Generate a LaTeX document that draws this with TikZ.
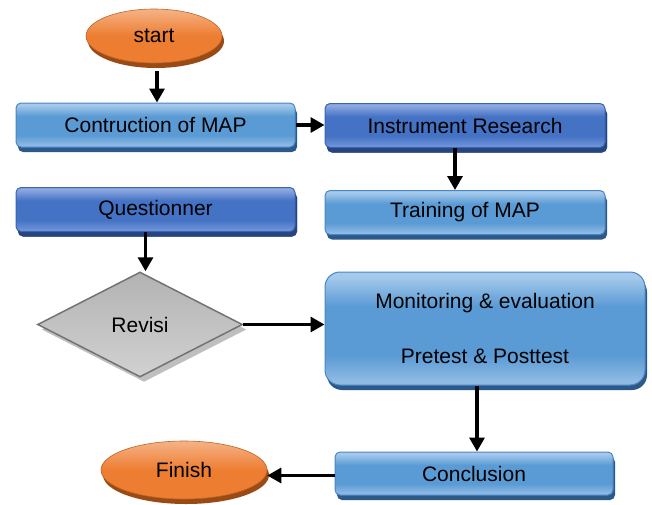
\documentclass[tikz,border=0pt]{standalone}
\usepackage{fontspec}
\setmainfont{Liberation Sans}
\usetikzlibrary{shapes.geometric, arrows.meta, shadows}
\definecolor{boxtop}{HTML}{A6CAEB}
\definecolor{boxmid}{HTML}{5B9BD5}
\definecolor{boxbot}{HTML}{8EBAE4}
\definecolor{boxline}{HTML}{4A86C4}
\definecolor{boxshade}{HTML}{2B5A8A}
\definecolor{darktop}{HTML}{8EA9E2}
\definecolor{darkmid}{HTML}{4472C4}
\definecolor{darkbot}{HTML}{6E93D8}
\definecolor{darkline}{HTML}{3A64B2}
\definecolor{darkshade}{HTML}{26447E}
\definecolor{ovaltop}{HTML}{F5B387}
\definecolor{ovalmid}{HTML}{ED7D31}
\definecolor{ovalshade}{HTML}{9A4A14}
\pgfdeclareverticalshading{lightfill}{100bp}{color(0bp)=(boxbot); color(27bp)=(boxbot);
    color(38bp)=(boxmid); color(60bp)=(boxmid); color(73bp)=(boxtop); color(100bp)=(boxtop)}
\pgfdeclareverticalshading{darkfill}{100bp}{color(0bp)=(darkbot); color(27bp)=(darkbot);
    color(38bp)=(darkmid); color(60bp)=(darkmid); color(73bp)=(darktop); color(100bp)=(darktop)}
\pgfdeclareverticalshading{ovalfill}{100bp}{color(0bp)=(ovalmid); color(50bp)=(ovalmid);
    color(75bp)=(ovaltop); color(100bp)=(ovaltop)}

\begin{document}
\begin{tikzpicture}[x=1pt, y=-1pt,
        font=\fontsize{21}{25}\selectfont,
        lightbox/.style={rectangle, rounded corners=5pt, draw=boxline, line width=1pt,
            shading=lightfill,
            drop shadow={shadow xshift=2pt, shadow yshift=-5pt, fill=boxshade, opacity=1},
            minimum width=279pt, minimum height=44pt, inner sep=0pt},
        darkbox/.style={lightbox, draw=darkline, shading=darkfill,
            drop shadow={shadow xshift=2pt, shadow yshift=-5pt, fill=darkshade, opacity=1}},
        oval/.style={ellipse, draw=ovalmid!80!black, line width=0.6pt, shading=ovalfill,
            drop shadow={shadow xshift=2pt, shadow yshift=-5pt, fill=ovalshade, opacity=1},
            inner sep=0pt},
        flow/.style={-{Triangle[width=15pt, length=14pt]}, line width=3.2pt}]
        \useasboundingbox (0,0) rectangle (652,504);
        \node[oval, minimum width=136pt, minimum height=54pt] (start) at (154,36) {start};
        \node[lightbox] (constr) at (155.5,125) {Contruction of MAP};
        \node[darkbox, minimum width=280pt] (instr) at (465,125.5) {Instrument Research};
        \node[lightbox, minimum width=280pt] (train) at (465,212.5) {Training of MAP};
        \node[darkbox] (quest) at (155.5,209.5) {Questionner};
        \node[diamond, draw=black!55, line width=1.5pt, aspect=2,
            top color=black!30, bottom color=black!18,
            drop shadow={shadow xshift=4pt, shadow yshift=-5pt, fill=black!25, opacity=1},
            minimum width=205pt, minimum height=105pt, inner sep=0pt] (revisi) at (140,324.5) {Revisi};
        \node[lightbox, rounded corners=15pt, minimum width=320pt, minimum height=113pt,
            align=center] (monit) at (485,328.5) {Monitoring \& evaluation\\[30pt]Pretest \& Posttest};
        \node[lightbox, minimum width=278pt, minimum height=43pt] (concl) at (474,473.5) {Conclusion};
        \node[oval, minimum width=166pt, minimum height=58pt] (finish) at (184,470) {Finish};
        \draw[flow, shorten <=8pt] ([xshift=3pt]start.south) -- ([xshift=3pt]start.south |- constr.north);
        \draw[flow] (constr.east) -- (constr.east -| instr.west);
        \draw[flow] ([xshift=-10pt]instr.south) -- ([xshift=-10pt]train.north);
        \draw[flow] ([xshift=-10pt]quest.south) -- ([xshift=-10pt]quest.south |- revisi.north);
        \draw[flow] (revisi.east) -- (revisi.east -| monit.west);
        \draw[flow] ([xshift=-8pt]monit.south) -- ([xshift=-8pt]monit.south |- concl.north);
        \draw[flow] ([yshift=-2pt]concl.west) -- ([yshift=-2pt]concl.west -| finish.east);
\end{tikzpicture}
\end{document}
